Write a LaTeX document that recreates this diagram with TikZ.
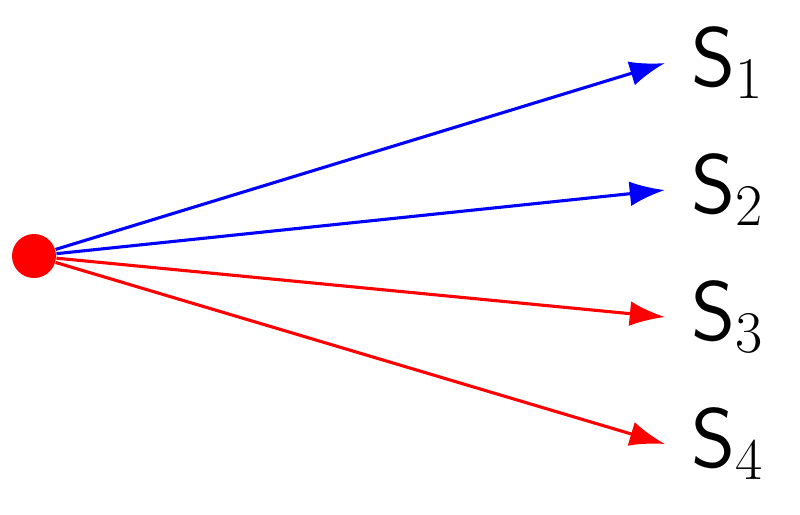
\RequirePackage{fix-cm}
\documentclass[tikz,border=0pt]{standalone}
\usepackage{tikz}
\usetikzlibrary{arrows.meta}

\begin{document}
\begin{tikzpicture}[x=0.0125cm,y=-0.0125cm,
  dot/.style={circle,fill=red,inner sep=0pt,minimum size=0.55cm},
  lbl/.style={anchor=base west,inner ysep=0pt,inner xsep=0.325cm,font=\fontsize{30}{34}\selectfont},
  arr/.style={line width=1.1pt,-{Latex[length=0.44cm,width=0.31cm]}}]
 \useasboundingbox (0,0) rectangle (800,514);
 \node[lbl] (s1) at (665,86) {$\mathsf{S}_1$};
 \node[lbl] (s2) at (665,213) {$\mathsf{S}_2$};
 \node[lbl] (s3) at (665,340) {$\mathsf{S}_3$};
 \node[lbl] (s4) at (665,467) {$\mathsf{S}_4$};
 \node[dot] (src) at (34,256) {};
 \draw[arr,blue] (src) -- (s1.west);
 \draw[arr,blue] (src) -- (s2.west);
 \draw[arr,red] (src) -- (s3.west);
 \draw[arr,red] (src) -- (s4.west);
\end{tikzpicture}
\end{document}
